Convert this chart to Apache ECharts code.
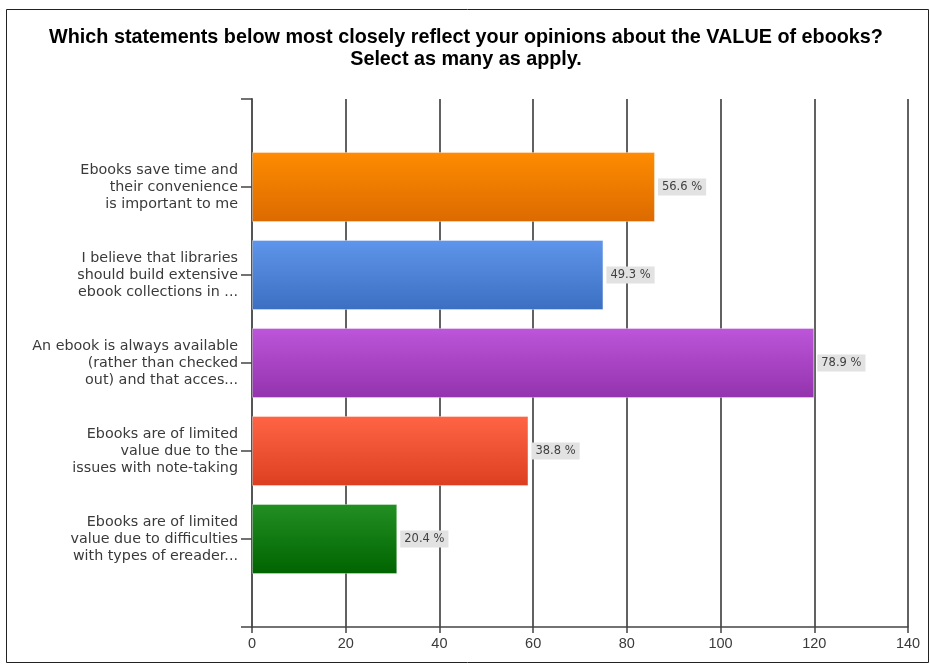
<!DOCTYPE html>
<html>
<head>
<meta charset="utf-8">
<script src="https://cdn.jsdelivr.net/npm/echarts@6/dist/echarts.min.js"></script>
<style>
html,body{margin:0;padding:0;background:#fff;}
#chart{width:930px;height:665px;}
</style>
</head>
<body>
<div id="chart"></div>
<script>
const titleText = 'Which statements below most closely reflect your opinions about the VALUE of ebooks?\nSelect as many as apply.';
const categories = [
  'Ebooks save time and\ntheir convenience\nis important to me',
  'I believe that libraries\nshould build extensive\nebook collections in ...',
  'An ebook is always available\n(rather than checked\nout) and that acces...',
  'Ebooks are of limited\nvalue due to the\nissues with note-taking',
  'Ebooks are of limited\nvalue due to difficulties\nwith types of ereader...'
];
const counts = [86, 75, 120, 59, 31];
const percents = [56.6, 49.3, 78.9, 38.8, 20.4];
const xTicks = [0, 20, 40, 60, 80, 100, 120, 140];

const barColors = [
  ['#ff8c00', '#dc6a00'],
  ['#5f95ea', '#3c6fc2'],
  ['#bd56da', '#9333ad'],
  ['#ff6545', '#dc3f1f'],
  ['#238f23', '#006400']
];

const axisCats = [''].concat(categories, ['']);
const barData = [null].concat(counts.map((v, i) => ({
  value: v,
  itemStyle: {
    color: new echarts.graphic.LinearGradient(0, 0, 0, 1, [
      {offset: 0, color: barColors[i][0]},
      {offset: 1, color: barColors[i][1]}
    ])
  },
  label: {formatter: percents[i].toFixed(1) + ' %'}
})), [null]);

const chart = echarts.init(document.getElementById('chart'));
chart.setOption({
  animation: false,
  backgroundColor: '#ffffff',
  title: {
    text: titleText,
    left: 461,
    textAlign: 'center',
    top: 22,
    textStyle: {
      fontFamily: 'Liberation Sans, Arial, sans-serif',
      fontWeight: 'bold',
      fontSize: 19.8,
      lineHeight: 22,
      color: '#000'
    }
  },
  graphic: [{
    type: 'rect',
    shape: {x: 6.5, y: 9.5, width: 922, height: 653},
    style: {fill: 'none', stroke: '#222', lineWidth: 1},
    silent: true,
    z: -1
  }],
  grid: {left: 252, right: 22, top: 99, bottom: 38},
  xAxis: {
    type: 'value',
    min: xTicks[0],
    max: xTicks[xTicks.length - 1],
    interval: 20,
    axisLine: {show: true, lineStyle: {color: '#444', width: 1.5}},
    axisTick: {show: true, length: 6, lineStyle: {color: '#444', width: 1.5}},
    axisLabel: {
      fontFamily: 'Liberation Sans, Arial, sans-serif',
      fontSize: 14.5,
      color: '#3a3a3a',
      margin: 9
    },
    splitLine: {show: true, lineStyle: {color: '#3a3a3a', width: 1.6}}
  },
  yAxis: {
    type: 'category',
    data: axisCats,
    inverse: true,
    boundaryGap: false,
    axisLine: {show: true, lineStyle: {color: '#555', width: 2}},
    axisTick: {show: true, length: 11, interval: 0, lineStyle: {color: '#444', width: 1.5}},
    axisLabel: {
      interval: 0,
      margin: 14,
      fontFamily: 'DejaVu Sans, sans-serif',
      fontSize: 14.3,
      lineHeight: 17,
      color: '#3a3a3a',
      align: 'right'
    },
    splitLine: {show: false}
  },
  series: [{
    type: 'bar',
    data: barData,
    barWidth: 70,
    itemStyle: {borderColor: 'rgba(255,255,255,0.35)', borderWidth: 1},
    label: {
      show: true,
      position: 'right',
      distance: 3,
      fontFamily: 'DejaVu Sans, sans-serif',
      fontSize: 11.5,
      color: '#404040',
      backgroundColor: '#e2e2e2',
      padding: [3, 4, 2, 4]
    }
  }]
});
</script>
</body>
</html>
